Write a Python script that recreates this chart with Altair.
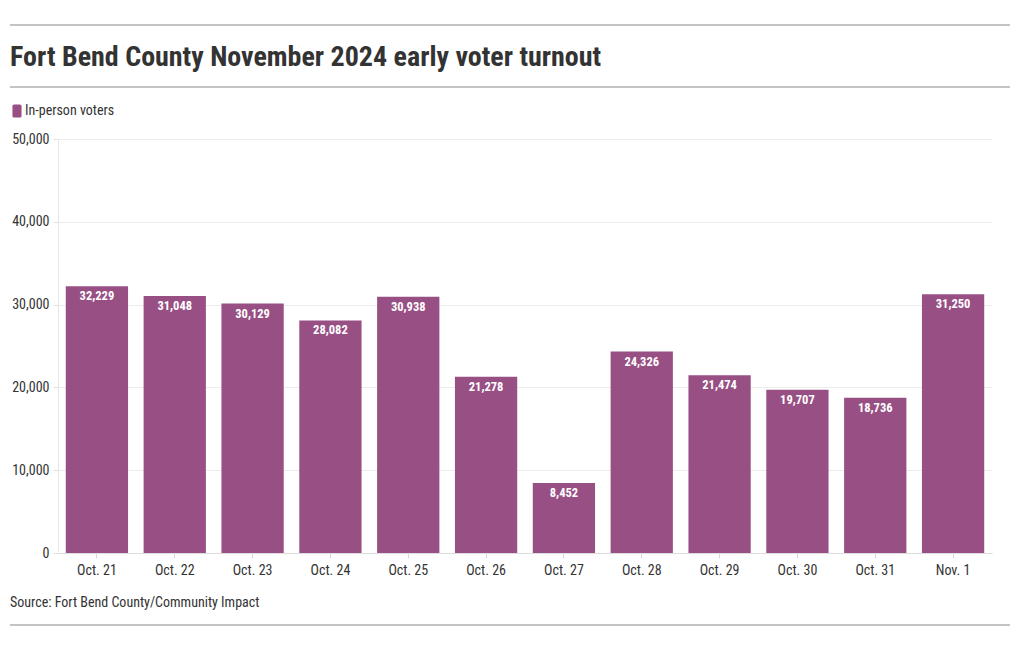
import altair as alt
import pandas as pd

days = ["Oct. 21", "Oct. 22", "Oct. 23", "Oct. 24", "Oct. 25", "Oct. 26",
        "Oct. 27", "Oct. 28", "Oct. 29", "Oct. 30", "Oct. 31", "Nov. 1"]
voters = [32229, 31048, 30129, 28082, 30938, 21278, 8452, 24326, 21474, 19707, 18736, 31250]
series = ["In-person voters"] * len(days)
y_ticks = [0, 10000, 20000, 30000, 40000, 50000]

title_text = "Fort Bend County November 2024 early voter turnout"
source_text = "Source: Fort Bend County/Community Impact"

FONT = "Roboto Condensed, Liberation Sans Narrow, DejaVu Sans Condensed, Roboto, sans-serif"
BAR = "#984f84"

df = pd.DataFrame({"day": days, "voters": voters, "series": series})
one = pd.DataFrame({"k": [0]})

swatch = ("M -0.45 -1 L 0.45 -1 Q 0.7 -1 0.7 -0.75 L 0.7 0.75 Q 0.7 1 0.45 1 "
          "L -0.45 1 Q -0.7 1 -0.7 0.75 L -0.7 -0.75 Q -0.7 -1 -0.45 -1 Z")

x_enc = alt.X("day:N", sort=None, title=None,
              scale=alt.Scale(paddingInner=0.2, paddingOuter=0.1),
              axis=alt.Axis(labelAngle=0, labelFontSize=14, labelColor="#333333",
                            labelFont=FONT, tickColor="#d9d9d9", tickSize=5,
                            domainColor="#dddddd", labelPadding=5))
y_enc = alt.Y("voters:Q", title=None,
              scale=alt.Scale(domain=[0, 50000], nice=False),
              axis=alt.Axis(values=y_ticks, labelExpr="format(datum.value, ',')",
                            labelFontSize=14, labelColor="#333333", labelFont=FONT,
                            gridColor="#ececec", tickColor="#e0e0e0", tickSize=5,
                            domainColor="#e6e6e6", labelPadding=4))

bars = alt.Chart(df).mark_bar(color=BAR).encode(
    x=x_enc, y=y_enc,
    color=alt.Color("series:N", scale=alt.Scale(range=[BAR]),
                    legend=alt.Legend(orient="none", legendX=-48, legendY=-35, title=None,
                                      symbolType=swatch, symbolSize=169, symbolOpacity=1,
                                      symbolStrokeWidth=0, labelFont=FONT, labelFontSize=14,
                                      labelColor="#333333", labelOffset=1)),
)

labels = alt.Chart(df).mark_text(color="white", fontWeight="bold", fontSize=12.5, font=FONT,
                                 baseline="middle", dy=10).encode(
    x=x_enc, y=y_enc, text=alt.Text("voters:Q", format=","))

def hline(y):
    return alt.Chart(one).mark_rule(color="#888888", strokeWidth=1).encode(
        x=alt.value(-48), x2=alt.value(952), y=alt.value(y))

title = alt.Chart(one).mark_text(align="left", baseline="middle", fontSize=28, fontWeight="bold",
                                 font=FONT, color="#333333").encode(
    x=alt.value(-48), y=alt.value(-81), text=alt.value(title_text))

source = alt.Chart(one).mark_text(align="left", baseline="middle", fontSize=14,
                                  font=FONT, color="#333333").encode(
    x=alt.value(-48), y=alt.value(464), text=alt.value(source_text))

chart = alt.layer(bars, labels, hline(-114), hline(-52), hline(486), title, source).properties(
    width=934, height=414,
    background="white",
    autosize=alt.AutoSizeParams(type="none"),
    padding={"left": 58, "top": 139, "right": 28, "bottom": 97},
).configure_view(stroke=None, strokeWidth=0)

chart.save("out.html", embed_options={"renderer": "svg", "actions": False})
